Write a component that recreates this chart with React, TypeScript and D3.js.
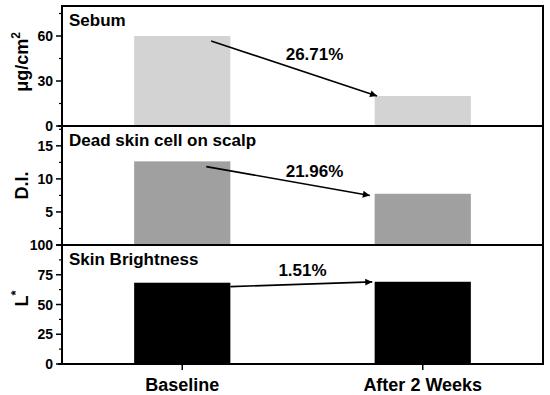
import React from "react";
import { scaleLinear, range } from "d3";

// categories and values
const categories = ["Baseline", "After 2 Weeks"];
const sebum = [60, 20];
const deadSkin = [12.65, 7.75];
const brightness = [68.3, 69.1];
const changes = ["26.71%", "21.96%", "1.51%"];

const titles = ["Sebum", "Dead skin cell on scalp", "Skin Brightness"];
const yTitles = ["μg/cm", "D.I.", "L"];
const yMax = [80, 18, 100];
const yTicks = [[0, 30, 60], [0, 5, 10, 15], [0, 25, 50, 75, 100]];
const yMinor = [15, 2.5, 12.5];
const fills = ["#d3d3d3", "#a0a0a0", "#000000"];
// arrow start/end in data units: [x0, y0, x1, y1]
const arrows = [
  [1.12, 56.7, 1.81, 20],
  [1.1, 11.85, 1.78, 7.5],
  [1.2, 65, 1.79, 69],
];
// label anchor in data units: [x, y]
const labelPos = [
  [1.55, 44],
  [1.55, 10.3],
  [1.5, 74],
];

const W = 550;
const H = 395;
const left = 62;
const right = 543;
const bounds = [6, 126, 245, 364];
const font = "'Liberation Sans', Arial, sans-serif";

const x = scaleLinear().domain([0.5, 2.5]).range([left, right]);
const barW = x(1.4) - x(1);

export default function App() {
  const data = [sebum, deadSkin, brightness];
  return (
    <svg width={W} height={H} style={{ position: "absolute", left: 0, top: 0 }} fontFamily={font}>
      <defs>
        <marker id="head" viewBox="0 0 10 10" refX="10" refY="5" markerWidth="11" markerHeight="7" orient="auto" markerUnits="userSpaceOnUse">
          <path d="M0,0 L10,5 L0,10 z" fill="#000" />
        </marker>
      </defs>
      {data.map((vals, p) => {
        const y = scaleLinear().domain([0, yMax[p]]).range([bounds[p + 1], bounds[p]]);
        const minor = range(yMinor[p], yMax[p], yMinor[p] * 2);
        const a = arrows[p];
        return (
          <g key={p}>
            {vals.map((v, i) => (
              <rect key={i} x={x(i + 1) - barW / 2} y={y(v)} width={barW} height={y(0) - y(v)} fill={fills[p]} />
            ))}
            <line x1={x(a[0])} y1={y(a[1])} x2={x(a[2])} y2={y(a[3])} stroke="#000" strokeWidth={1.6} markerEnd="url(#head)" />
            <text x={x(labelPos[p][0])} y={y(labelPos[p][1])} textAnchor="middle" fontWeight="bold" fontSize={17}>
              {changes[p]}
            </text>
            <text x={69} y={bounds[p] + 20} fontWeight="bold" fontSize={17}>
              {titles[p]}
            </text>
            {yTicks[p].map((t) => (
              <g key={t}>
                <line x1={left - 6} x2={left} y1={y(t)} y2={y(t)} stroke="#000" strokeWidth={1.5} />
                {!(p === 1 && t === 0) && (
                  <text x={53} y={y(t) + 5} textAnchor="end" fontWeight="bold" fontSize={14}>
                    {t}
                  </text>
                )}
              </g>
            ))}
            {minor.map((t) => (
              <line key={t} x1={left - 3} x2={left} y1={y(t)} y2={y(t)} stroke="#000" strokeWidth={1.2} />
            ))}
            <text
              transform={`translate(28,${(bounds[p] + bounds[p + 1]) / 2 + (p === 0 ? -4 : p === 2 ? -6 : 0)}) rotate(-90)`}
              textAnchor="middle"
              fontWeight="bold"
              fontSize={18}
            >
              {yTitles[p]}
              {p === 0 && (
                <tspan fontSize={12} dy={-8}>2</tspan>
              )}
              {p === 2 && (
                <tspan fontSize={13} dy={-8}>*</tspan>
              )}
            </text>
            <line x1={left - 4} x2={right} y1={bounds[p + 1]} y2={bounds[p + 1]} stroke="#000" strokeWidth={2} />
          </g>
        );
      })}
      <rect x={left} y={bounds[0]} width={right - left} height={bounds[3] - bounds[0]} fill="none" stroke="#000" strokeWidth={2} />
      {categories.map((c, i) => (
        <g key={c}>
          <line x1={x(i + 1)} x2={x(i + 1)} y1={bounds[3]} y2={bounds[3] + 6} stroke="#000" strokeWidth={1.5} />
          <text x={x(i + 1)} y={391} textAnchor="middle" fontWeight="bold" fontSize={18}>
            {c}
          </text>
        </g>
      ))}
    </svg>
  );
}
